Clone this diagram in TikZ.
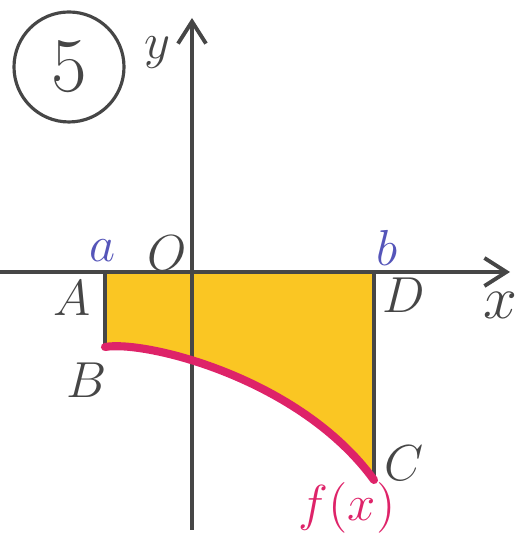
\documentclass[tikz,border=0pt]{standalone}
\usetikzlibrary{arrows.meta}
\definecolor{axisgray}{RGB}{70,70,70}
\definecolor{areayellow}{RGB}{250,198,35}
\definecolor{curvepink}{RGB}{222,35,105}
\definecolor{labelblue}{RGB}{85,85,185}
\tikzset{
  axis/.style={-{Straight Barb[length=2.2mm,width=2.8mm]}, line width=1.1pt, axisgray},
  side/.style={line width=1.1pt, axisgray},
  lbl/.style={font=\fontsize{15}{17}\selectfont, text=axisgray, inner sep=1pt},
}

\begin{document}
\begin{tikzpicture}
\useasboundingbox (0,0) rectangle (5.27,5.38);

\coordinate (xstart) at (0,2.66);
\coordinate (xend) at (5.1,2.66);
\coordinate (ystart) at (1.92,0.08);
\coordinate (yend) at (1.92,5.2);
\coordinate (A) at (1.05,2.66);
\coordinate (D) at (3.74,2.66);
\coordinate (B) at (1.05,1.91);
\coordinate (C) at (3.74,0.58);

% area under the curve
\fill[areayellow] (A) -- (D) -- (C) .. controls (3.0,1.6) and (1.45,1.98) .. (B) -- cycle;

\draw[axis] (xstart) -- (xend);
\draw[axis] (ystart) -- (yend);
\draw[side] (A) -- (B);
\draw[side] (D) -- (C);
\draw[curvepink, line width=2.3pt, line cap=round] (B) .. controls (1.45,1.98) and (3.0,1.6) .. (C);

\node[draw=axisgray, line width=0.9pt, circle, minimum size=1.1cm, font=\fontsize{22}{24}\selectfont, text=axisgray] (num) at (0.69,4.71) {5};
\node[lbl] (laby) at (1.57,4.85) {$y$};
\node[lbl, text=labelblue] (laba) at (1.03,2.87) {$a$};
\node[lbl] (labO) at (1.67,2.85) {$O$};
\node[lbl, text=labelblue] (labb) at (3.87,2.9) {$b$};
\node[lbl] (labA) at (0.72,2.4) {$A$};
\node[lbl] (labD) at (4.04,2.43) {$D$};
\node[lbl, font=\fontsize{18}{20}\selectfont] (labx) at (5.0,2.33) {$x$};
\node[lbl] (labB) at (0.87,1.58) {$B$};
\node[lbl] (labC) at (4.04,0.75) {$C$};
\node[lbl, text=curvepink] (labf) at (3.47,0.3) {$f(x)$};
\end{tikzpicture}
\end{document}
